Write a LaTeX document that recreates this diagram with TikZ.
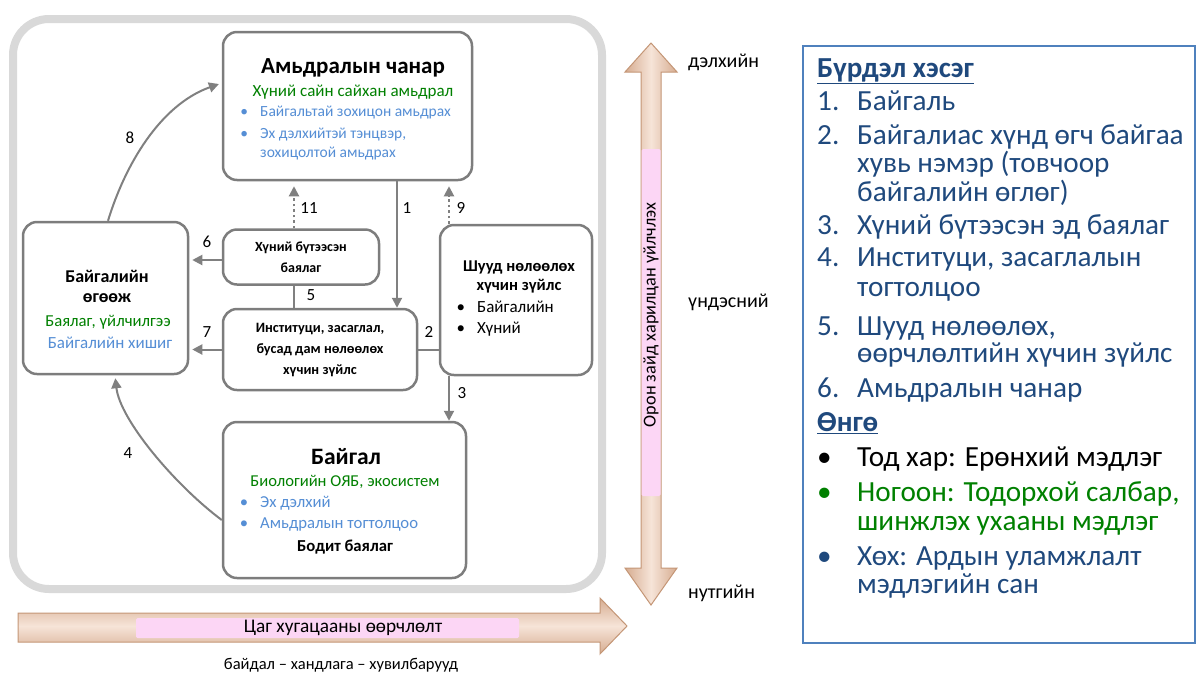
\documentclass[tikz,border=0pt]{standalone}
\usepackage{fontspec}
\setmainfont{Carlito}
\usetikzlibrary{arrows.meta, positioning}
\definecolor{boxgray}{RGB}{125,125,125}
\definecolor{linkgray}{RGB}{128,128,128}
\definecolor{framegray}{RGB}{217,217,217}
\definecolor{leafgreen}{RGB}{0,128,0}
\definecolor{skyblue}{RGB}{85,142,213}
\definecolor{navy}{RGB}{31,73,125}
\definecolor{panelblue}{RGB}{79,129,189}
\definecolor{tandark}{RGB}{214,172,144}
\definecolor{tanlight}{RGB}{246,228,216}
\definecolor{tanedge}{RGB}{196,150,118}
\definecolor{pinkband}{RGB}{252,214,245}
\newcommand{\sz}[1]{\fontsize{#1}{#1}\selectfont}
\tikzset{
    frame/.style = {draw=framegray, line width=8pt, rounded corners=36pt},
    box/.style = {
      draw=boxgray, line width=2.5pt, rounded corners=14pt, fill=white,
      inner sep=0, align=center,
    },
    head/.style = {inner sep=0, font=\bfseries\sz{#1}},
    head/.default = 15,
    green line/.style = {inner sep=0, text=leafgreen, font=\sz{#1}},
    green line/.default = 17,
    blue line/.style = {inner sep=0, text=skyblue, font=\sz{#1}},
    blue line/.default = 15.5,
    blue item/.style = {
      blue line=#1, anchor=west,
      execute at begin node={\llap{•\hspace{12pt}}},
    },
    blue item/.default = 15.5,
    black item/.style = {
      inner sep=0, anchor=west, font=\sz{17},
      execute at begin node={\llap{•\hspace{12pt}}},
    },
    number/.style = {inner sep=0, font=\sz{17}},
    link/.style = {
      draw=linkgray, line width=2pt,
      arrows={-Triangle[width=10pt, length=10pt]}, shorten >=3pt,
    },
    dotted link/.style = {link, dash pattern=on 2.5pt off 3pt},
    plain link/.style = {draw=linkgray, line width=2pt},
    tan arrow/.style = {draw=tanedge, line width=1pt, line join=miter},
    band/.style = {fill=pinkband, inner sep=0, rounded corners=1.5pt},
    scale label/.style = {inner sep=0, anchor=west, font=\sz{20}},
    panel/.style = {draw=panelblue, line width=1.5pt, inner sep=0},
    legend/.style = {inner sep=0, anchor=base west, text=navy, font=\sz{29.2}},
}
\newcommand{\legenditem}[4][navy]{%
  %% marker at the left margin, first line of the item after it
  \node [legend, text=#1] (#2_mark) at (817,#3) {\legendmark};
  \node [legend, text=#1] (#2) at (857,#3) {#4};
}
\newcommand{\legendmore}[4][navy]{%
  \node [legend, text=#1] (#2) at (857,#3) {#4};
}
\newcommand{\legendmark}{}
\begin{document}
\begin{tikzpicture}[x=1pt, y=-1pt]
  \useasboundingbox (0,0) rectangle (1196,673);

  %% Frame round the cycle
  \draw [frame] (13,19) rectangle (602,589);

  %% The six boxes
  \node [box, minimum width=249pt, minimum height=148pt] (life) at (347.5,106) {};
  \node [box, minimum width=165pt, minimum height=152pt] (gift) at (105.5,298) {};
  \node [box, minimum width=156pt, minimum height=55pt, font=\bfseries\fontsize{14}{21}\selectfont]
        (built) at (301,257) {Хүний бүтээсэн\\баялаг};
  \node [box, minimum width=194pt, minimum height=81pt, font=\bfseries\fontsize{14.3}{21}\selectfont]
        (inst) at (320,349.5) {Институци, засаглал,\\бусад дам нөлөөлөх\\хүчин зүйлс};
  \node [box, minimum width=152pt, minimum height=150pt] (drivers) at (516,300) {};
  \node [box, minimum width=243pt, minimum height=156pt] (nature) at (344.5,500) {};

  %% Texts of the boxes
  \node [head=23] (life_title) at (353,68) {Амьдралын чанар};
  \node [green line] (life_sub) at (353,92) {Хүний сайн сайхан амьдрал};
  \node [blue item] (life_a) at (260,113) {Байгальтай зохицон амьдрах};
  \node [blue item] (life_b) at (260,135) {Эх дэлхийтэй тэнцвэр,};
  \node [blue line, anchor=west] (life_c) at (260,154) {зохицолтой амьдрах};

  \node [head=18] (gift_title) at (107,276) {Байгалийн};
  \node [head=18] (gift_title2) at (107,298) {өгөөж};
  \node [green line=16.7] (gift_sub) at (108,322) {Баялаг, үйлчилгээ};
  \node [blue line=17] (gift_sub2) at (110,343) {Байгалийн хишиг};

  \node [head=16.5] (drivers_title) at (519,267) {Шууд нөлөөлөх};
  \node [head=16.5] (drivers_title2) at (519,286) {хүчин зүйлс};
  \node [black item] (drivers_a) at (477,307) {Байгалийн};
  \node [black item] (drivers_b) at (477,329) {Хүний};

  \node [head=23.5] (nature_title) at (346,457) {Байгал};
  \node [green line=16.6] (nature_sub) at (345,482) {Биологийн ОЯБ, экосистем};
  \node [blue item=16.7] (nature_a) at (260,503) {Эх дэлхий};
  \node [blue item=16.7] (nature_b) at (260,525) {Амьдралын тогтолцоо};
  \node [head=16.7] (nature_foot) at (345,547) {Бодит баялаг};

  %% Connectors of the cycle
  \draw [link, shorten >=0pt] ([xshift=49.5pt]life.south) -- ([xshift=77pt]inst.north);
  \draw [plain link] (inst.east) -- (inst.east -| drivers.west);
  \draw [link, shorten >=0pt] ([xshift=-67pt]drivers.south) -- ([xshift=-67pt]drivers.south |- nature.north);
  \draw [link] ([yshift=-20pt]nature.west) .. controls (175,485) and (120,420) .. ([xshift=9.5pt]gift.south);
  \draw [plain link] ([xshift=-7pt]built.south) -- ([xshift=-7pt]built.south |- inst.north);
  \draw [link] ([yshift=-3pt]built.west) -- ([yshift=-3pt]built.west -| gift.east);
  \draw [link] (inst.west) -- (inst.west -| gift.east);
  \draw [link] ([xshift=2.5pt]gift.north) .. controls (125,165) and (160,105) .. ([yshift=23pt]life.west);
  \draw [dotted link, shorten >=5pt] ([xshift=-67pt]drivers.north) -- ([xshift=-67pt]drivers.north |- life.south);
  \draw [dotted link, shorten >=5pt] ([xshift=-7pt]built.north) -- ([xshift=-7pt]built.north |- life.south);

  %% Numbers of the connectors
  \node [number] (n1) at (407,208) {1};
  \node [number] (n2) at (429,332) {2};
  \node [number] (n3) at (462,393) {3};
  \node [number] (n4) at (128,453) {4};
  \node [number] (n5) at (311,295) {5};
  \node [number] (n6) at (207,242) {6};
  \node [number] (n7) at (207,332) {7};
  \node [number] (n8) at (130,138) {8};
  \node [number] (n9) at (461,208) {9};
  \node [number] (n11) at (309,208) {11};

  %% Time axis along the bottom
  \path [tan arrow, top color=tandark, bottom color=tandark, middle color=tanlight]
    (18,613) -- (600,613) -- (600,598) -- (627,626) -- (600,654) -- (600,642) -- (18,642) -- cycle;
  \node [band, minimum width=383pt, minimum height=20pt] (time_band) at (327.5,628) {};
  \node [inner sep=0, font=\sz{19.3}] (time_label) at (343,628) {Цаг хугацааны өөрчлөлт};
  \node [inner sep=0, font=\sz{16.5}] (trend) at (341,665) {байдал – хандлага – хувилбарууд};

  %% Space axis on the right of the frame
  \path [tan arrow, left color=tandark, right color=tandark, middle color=tanlight]
    (651,43) -- (677,72) -- (661,72) -- (661,568) -- (677,568) -- (651,605)
    -- (625,568) -- (641,568) -- (641,72) -- (625,72) -- cycle;
  \node [band, minimum width=19pt, minimum height=347pt] (space_band) at (651,322.5) {};
  \node [inner sep=0, rotate=90, font=\sz{18.2}] (space_label) at (651,315) {Орон зайд харилцан үйлчлэх};
  \node [scale label] (global) at (688,62) {дэлхийн};
  \node [scale label] (national) at (688,302) {үндэсний};
  \node [scale label] (local) at (688,593) {нутгийн};

  %% Legend panel
  \node [panel, minimum width=392pt, minimum height=597pt] (legend) at (999,344.5) {};
  \node [legend, font=\bfseries\sz{29}] (parts) at (817,77) {\underline{Бүрдэл хэсэг}};
  \renewcommand{\legendmark}{1.}\legenditem{part1}{110.7}{Байгаль}
  \renewcommand{\legendmark}{2.}\legenditem{part2}{144}{Байгалиас хүнд өгч байгаа}
  \legendmore{part2b}{172.7}{хувь нэмэр (товчоор}
  \legendmore{part2c}{201.7}{байгалийн өглөг)}
  \renewcommand{\legendmark}{3.}\legenditem{part3}{234}{Хүний бүтээсэн эд баялаг}
  \renewcommand{\legendmark}{4.}\legenditem{part4}{266.7}{Институци, засаглалын}
  \legendmore{part4b}{296.7}{тогтолцоо}
  \renewcommand{\legendmark}{5.}\legenditem{part5}{335}{Шууд нөлөөлөх,}
  \legendmore{part5b}{362.7}{өөрчлөлтийн хүчин зүйлс}
  \renewcommand{\legendmark}{6.}\legenditem{part6}{397.7}{Амьдралын чанар}
  \node [legend, font=\bfseries\sz{29}] (colours) at (817,431.7) {\underline{Өнгө}};
  \renewcommand{\legendmark}{•}\legenditem[black]{black}{466.7}{Тод хар: Ерөнхий мэдлэг}
  \legenditem[leafgreen]{green}{501.7}{Ногоон: Тодорхой салбар,}
  \legendmore[leafgreen]{greenb}{530}{шинжлэх ухааны мэдлэг}
  \legenditem{blue}{565.7}{Хөх: Ардын уламжлалт}
  \legendmore{blueb}{593.3}{мэдлэгийн сан}
\end{tikzpicture}
\end{document}
